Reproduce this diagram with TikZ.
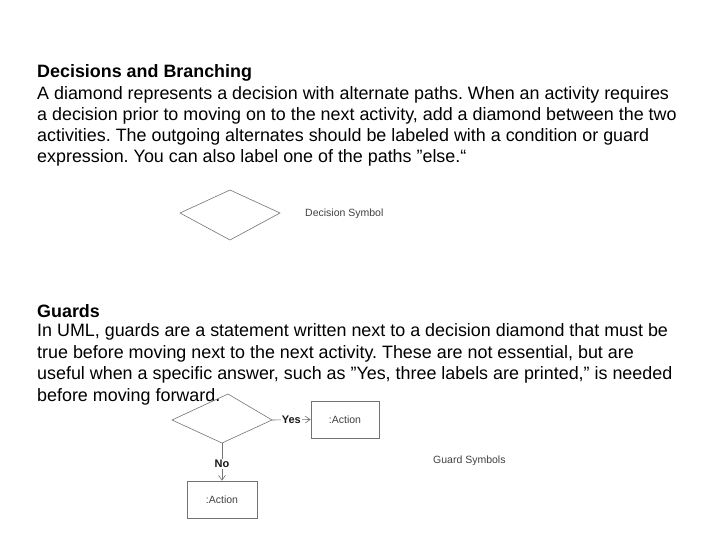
\documentclass[tikz,border=0pt]{standalone}
\usepackage{fontspec}
\usetikzlibrary{arrows.meta}
\setmainfont[Ligatures=NoCommon]{Liberation Sans}
\frenchspacing
\newcommand{\dq}{\char"22\relax}
\begin{document}
\begin{tikzpicture}[x=1pt,y=-1pt,
 body/.style={anchor=west,inner sep=0pt,font=\fontsize{17.9}{20}\selectfont},
 small/.style={inner sep=0pt,text=black!75,font=\fontsize{10.5}{12}\selectfont},
 shp/.style={draw=black!55,line width=0.6pt},
 con/.style={draw=black!55,line width=0.6pt,-{Straight Barb[length=5pt,width=7pt]}}]
\useasboundingbox (0,0) rectangle (720,540);
\node[body,font=\fontsize{17.9}{20}\selectfont\bfseries] (t1) at (37,73) {Decisions and Branching};
\node[body] (l1) at (37,95) {A diamond represents a decision with alternate paths. When an activity requires};
\node[body] (l2) at (37,116) {a decision prior to moving on to the next activity, add a diamond between the two};
\node[body] (l3) at (37,137) {activities. The outgoing alternates should be labeled with a condition or guard};
\node[body] (l4) at (37,158) {expression. You can also label one of the paths \dq else.“};
\draw[shp] (180,213) -- (230,190) -- (280,213) -- (230,240) -- cycle;
\node[small,anchor=west] (ds) at (305,214) {Decision Symbol};
\node[body,font=\fontsize{17.9}{20}\selectfont\bfseries] (t2) at (37,311) {Guards};
\node[body] (g1) at (37,332) {In UML, guards are a statement written next to a decision diamond that must be};
\node[body] (g2) at (37,354) {true before moving next to the next activity. These are not essential, but are};
\node[body] (g3) at (37,375) {useful when a specific answer, such as \dq Yes, three labels are printed,\dq{} is needed};
\node[body] (g4) at (37,397) {before moving forward.};
\draw[shp] (172,420) -- (228,394) -- (272,420) -- (222,443) -- cycle;
\coordinate (dr) at (272,420);
\coordinate (db) at (222,443);
\node[shp,minimum width=68pt,minimum height=37pt,inner sep=0pt] (a1) at (345,419.5) {};
\node[small] at (a1) {:Action};
\node[shp,minimum width=70pt,minimum height=37pt,inner sep=0pt] (a2) at (222,499.5) {};
\node[small] at (a2) {:Action};
\draw[con] (dr) -- node[small,fill=white,inner sep=1pt,text=black!90,font=\fontsize{11}{12}\selectfont\bfseries] {Yes} (a1.west);
\draw[con] (db) -- node[small,fill=white,inner sep=1pt,text=black!90,pos=0.55,font=\fontsize{11}{12}\selectfont\bfseries] {No} (a2.north);
\node[small,anchor=west] (gs) at (433,461) {Guard Symbols};
\end{tikzpicture}
\end{document}
